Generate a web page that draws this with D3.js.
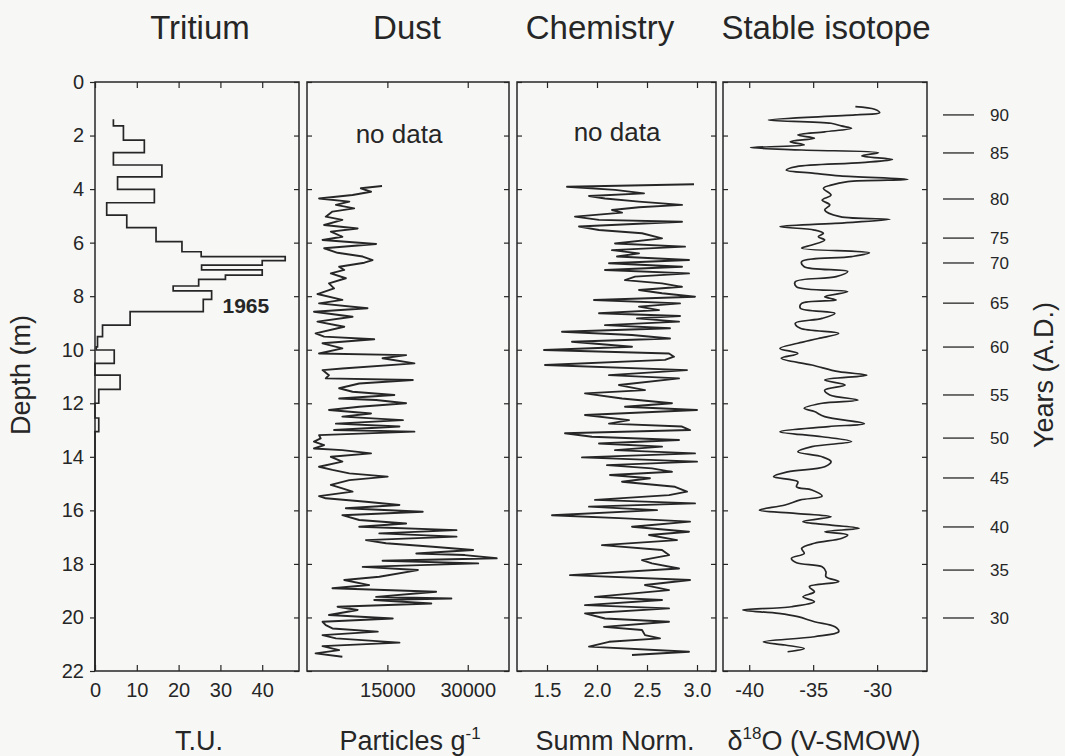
<!DOCTYPE html>
<html><head><meta charset="utf-8">
<script src="https://cdn.jsdelivr.net/npm/d3@7/dist/d3.min.js"></script>
<style>
html,body{margin:0;padding:0;background:#f7f8f6;}
svg{display:block;font-family:"Liberation Sans",Arial,sans-serif;}
</style></head>
<body><svg id="c" width="1065" height="756"></svg>
<script>
// ---------------- data ----------------
const panelTitles = ["Tritium", "Dust", "Chemistry", "Stable isotope"];
const depthTicks = [0,2,4,6,8,10,12,14,16,18,20,22];

const tritiumTicks = [0,10,20,30,40];
const dustTicks = [15000,30000];
const chemTicks = [1.5,2.0,2.5,3.0];
const isoTicks = [-40,-35,-30];

// tritium: step boundaries (depth, m) and T.U. value for each interval
const tritiumDepth = [1.39,1.64,2.17,2.64,3.10,3.54,4.01,4.51,4.97,5.44,5.96,6.34,6.52,6.67,6.84,7.02,7.21,7.37,7.62,7.80,8.12,8.58,9.08,9.51,9.89,10.01,10.51,10.95,11.48,12.0,12.55,13.06,22];
const tritiumTU = [4.4,6.8,11.8,4.4,16.0,5.4,14.2,2.8,7.6,14.6,20.8,25.4,45.5,40.0,25.5,40.0,31.2,24.8,18.7,27.9,25.9,8.4,1.8,0.6,0.3,4.6,0,6.0,0.9,0,0.9,0];

const dustDepth = [3.885,3.97,4.10,4.22,4.35,4.47,4.59,4.72,4.84,5.03,5.15,5.34,5.47,5.59,5.78,5.90,6.05,6.21,6.38,6.52,6.65,6.75,6.90,7.02,7.15,7.33,7.52,7.71,7.92,8.14,8.27,8.45,8.58,8.77,8.95,9.14,9.39,9.51,9.61,9.76,9.95,10.14,10.20,10.32,10.51,10.70,
 10.76,10.95,11.07,11.13,11.26,11.44,11.57,11.69,11.82,11.88,12.00,12.13,12.25,12.38,12.50,12.63,12.76,12.87,13.00,13.06,13.19,13.31,13.43,13.56,13.69,13.75,13.87,14.00,14.18,14.37,14.49,14.62,14.74,14.87,15.05,15.18,15.30,15.47,15.55,15.68,15.80,15.92,16.05,16.18,16.36,16.49,16.61,16.74,16.86,16.98,17.11,17.23,17.36,17.48,17.61,17.67,17.79,17.88,17.98,18.11,18.23,18.48,18.60,18.79,18.91,19.04,19.23,19.29,19.35,19.48,19.60,19.72,19.91,20.04,20.16,20.29,20.41,20.53,20.66,20.78,20.94,21.07,21.22,21.34,21.47];
const dustParticles = [14000,10050,11950,8500,2250,7900,5400,8800,4750,3500,6600,3200,9450,4450,6600,2900,12900,3200,5700,10400,12250,10700,6000,6950,4450,7250,4100,5050,1950,6600,2250,11300,1300,8500,1950,6950,1600,3200,12550,2900,6600,2250,18500,14100,20050,6600,
 2900,4100,3500,19750,9750,6000,8500,16300,6000,12900,18500,9750,4100,11950,6600,17900,5400,17250,5050,20050,2250,2550,1300,3200,1300,6600,11950,4450,6600,2250,4750,7900,15050,7900,4450,6600,8500,2250,3500,11000,17250,7250,21600,6600,9750,18500,9750,27900,13500,27900,11000,14750,23500,31000,20400,29450,35400,14100,31950,10400,20700,13500,6950,11600,4750,24100,12900,26950,12550,23200,5700,9450,4100,16000,2900,3500,4750,13200,2900,5400,17250,2900,6000,1600,6600];

const chemDepth = [3.82,3.91,4.03,4.16,4.26,4.35,4.47,4.59,4.68,4.78,4.88,5.03,5.15,5.22,5.40,5.53,5.65,5.84,6.03,6.15,6.28,6.40,6.52,6.65,6.77,6.90,7.02,7.15,7.27,7.40,7.52,7.65,7.77,7.89,8.02,8.14,8.27,8.39,8.52,8.64,8.74,8.83,8.95,9.08,9.20,9.33,9.45,9.58,9.70,9.89,10.01,10.14,10.26,10.38,10.57,
 10.76,10.95,11.07,11.32,11.51,11.63,11.82,12.00,12.13,12.25,12.44,12.63,12.76,12.87,13.00,13.12,13.25,13.37,13.50,13.62,13.75,13.87,14.02,14.18,14.31,14.43,14.56,14.68,14.80,14.93,15.12,15.30,15.43,15.61,15.74,15.86,15.99,16.18,16.30,16.42,16.61,16.80,16.92,17.11,17.30,17.48,17.67,17.86,17.98,18.17,18.42,18.60,18.79,18.98,19.23,19.35,19.54,19.66,19.85,20.04,20.16,20.35,20.47,20.66,20.78,20.91,21.09,21.28,21.40];
const chemSumm = [2.97,1.70,2.18,2.47,1.92,2.08,2.42,2.85,2.42,2.15,2.25,1.78,2.02,2.85,1.82,2.02,2.45,2.65,2.18,2.88,2.15,2.42,2.20,2.92,2.12,2.85,2.08,2.92,2.38,2.28,2.65,2.85,2.42,2.65,2.98,1.97,2.83,2.42,2.62,2.02,2.83,2.40,2.82,2.08,2.73,1.65,2.35,2.73,1.75,2.35,1.47,2.72,2.77,2.68,1.48,
 2.90,2.12,2.82,2.22,2.48,1.88,2.25,2.75,2.28,3.00,1.88,2.32,2.12,2.85,2.93,1.68,1.95,2.82,2.02,2.65,2.18,2.98,1.85,3.00,2.10,2.55,2.75,2.13,2.53,2.25,2.78,2.90,2.72,1.98,2.98,1.92,2.60,1.55,2.28,2.93,2.35,2.92,2.52,2.80,2.05,2.65,2.72,2.45,2.55,2.82,1.73,2.93,2.48,2.72,1.98,2.65,1.88,2.72,1.88,2.08,2.72,2.07,2.45,2.48,2.63,2.12,1.92,2.92,2.35];

const isoDepth = [0.92,1.02,1.15,1.23,1.42,1.54,1.64,1.73,1.86,1.98,2.10,2.23,2.35,2.45,2.54,2.64,2.76,2.89,3.01,3.16,3.29,3.41,3.51,3.64,3.72,3.85,3.97,4.22,4.41,4.59,4.78,5.03,5.13,5.28,5.40,5.53,5.65,5.78,5.90,6.09,6.21,6.38,6.52,6.71,6.90,7.08,7.27,7.46,7.65,7.83,8.02,8.14,8.27,8.45,8.64,8.83,9.01,9.20,9.39,9.58,9.76,9.95,10.14,10.32,10.57,10.82,
 10.95,11.13,11.32,11.51,11.69,11.88,12.00,12.19,12.31,12.50,12.76,12.87,13.06,13.25,13.43,13.62,13.81,14.00,14.18,14.37,14.56,14.74,14.93,15.12,15.24,15.47,15.61,15.80,15.99,16.11,16.24,16.42,16.55,16.67,16.80,16.92,17.05,17.23,17.42,17.61,17.79,17.96,18.11,18.29,18.48,18.66,18.85,19.04,19.23,19.41,19.60,19.72,19.85,19.97,20.16,20.35,20.53,20.72,20.91,21.03,21.16,21.28];
const isoD18O = [-31.7,-30.2,-29.8,-31.7,-38.5,-33.6,-32.8,-32.0,-34.1,-36.2,-34.9,-36.8,-35.7,-39.9,-35.9,-29.9,-31.2,-28.8,-31.2,-36.3,-37.1,-34.9,-32.9,-27.6,-32.3,-33.6,-34.2,-33.6,-34.3,-33.7,-34.1,-32.9,-29.0,-33.3,-37.6,-34.9,-34.2,-34.6,-34.1,-35.1,-35.9,-30.6,-32.0,-35.9,-35.7,-32.3,-33.2,-36.4,-36.3,-32.3,-34.1,-33.2,-35.9,-36.0,-33.3,-34.3,-36.4,-36.0,-33.0,-34.6,-36.2,-37.6,-36.2,-37.5,-35.1,-33.0,
 -30.8,-34.1,-32.5,-34.1,-33.7,-31.5,-34.3,-35.7,-34.9,-34.1,-31.0,-33.8,-37.6,-34.3,-32.0,-35.1,-36.2,-34.3,-33.6,-34.1,-37.0,-38.1,-36.2,-36.3,-35.1,-34.3,-36.0,-37.2,-39.2,-36.4,-33.6,-35.8,-33.6,-31.4,-34.1,-32.3,-32.8,-34.9,-35.9,-35.7,-36.7,-36.3,-34.3,-34.0,-34.0,-33.0,-35.3,-34.9,-35.8,-34.9,-36.7,-40.5,-37.7,-36.2,-34.9,-33.3,-33.0,-34.9,-38.9,-37.2,-35.7,-37.0];

const yearLabels = [90,85,80,75,70,65,60,55,50,45,40,35,30];
const yearDepth = [1.23,2.65,4.37,5.83,6.76,8.26,9.90,11.69,13.30,14.79,16.62,18.23,20.02];

// ---------------- drawing ----------------
const svg = d3.select("#c");
const ink = "#262626";
const y = d3.scaleLinear().domain([0,22]).range([82,671]);
const hyphen = f => (v => f(v).replace("\u2212","-"));

const panels = [
  {x0:95,  x1:299, domain:[0,48.8],       ticks:tritiumTicks, fmt:hyphen(d3.format("d")),   tx:200},
  {x0:307, x1:509, domain:[0,37700],      ticks:dustTicks,    fmt:hyphen(d3.format("d")),   tx:407},
  {x0:517, x1:716, domain:[1.2,3.19],     ticks:chemTicks,    fmt:hyphen(d3.format(".1f")), tx:600},
  {x0:723, x1:927, domain:[-42.05,-26.1], ticks:isoTicks,     fmt:hyphen(d3.format("d")),   tx:826}
];
panels.forEach(p => p.x = d3.scaleLinear().domain(p.domain).range([p.x0,p.x1]));

function styleAxis(g){
  g.select(".domain").remove();
  g.selectAll(".tick line").attr("stroke",ink).attr("stroke-width",1.2);
  g.selectAll(".tick text").attr("fill",ink).attr("font-family","Liberation Sans, Arial, sans-serif");
}

panels.forEach((p,i) => {
  const gb = svg.append("g").attr("transform",`translate(0,${y(22)})`)
    .call(d3.axisBottom(p.x).tickValues(p.ticks).tickFormat(p.fmt).tickSizeInner(-6).tickSizeOuter(0).tickPadding(12));
  styleAxis(gb);
  gb.selectAll(".tick text").attr("font-size",20);
  const gt = svg.append("g").attr("transform",`translate(0,${y(0)})`)
    .call(d3.axisTop(p.x).tickValues(p.ticks).tickFormat("").tickSizeInner(-6).tickSizeOuter(0));
  styleAxis(gt);
  const gl = svg.append("g").attr("transform",`translate(${p.x0},0)`);
  if(i===0){
    gl.call(d3.axisLeft(y).tickValues(depthTicks).tickFormat(d3.format("d")).tickSizeInner(5).tickSizeOuter(0).tickPadding(6));
    styleAxis(gl);
    gl.selectAll(".tick text").attr("font-size",20);
  } else {
    gl.call(d3.axisRight(y).tickValues(depthTicks).tickFormat("").tickSizeInner(5).tickSizeOuter(0));
    styleAxis(gl);
  }
  const gr = svg.append("g").attr("transform",`translate(${p.x1},0)`)
    .call(d3.axisLeft(y).tickValues(depthTicks).tickFormat("").tickSizeInner(5).tickSizeOuter(0));
  styleAxis(gr);
  svg.append("rect").attr("x",p.x0).attr("y",y(0)).attr("width",p.x1-p.x0).attr("height",y(22)-y(0))
    .attr("fill","none").attr("stroke",ink).attr("stroke-width",1.5);
  svg.append("text").attr("x",p.tx).attr("y",39).attr("text-anchor","middle")
    .attr("font-size",33).attr("fill",ink).text(panelTitles[i]);
});

// bottom unit labels
const ub = 750, ufs = 27;
svg.append("text").attr("x",199).attr("y",ub).attr("text-anchor","middle").attr("font-size",ufs).attr("fill",ink).text("T.U.");
const t2 = svg.append("text").attr("x",410).attr("y",ub).attr("text-anchor","middle").attr("font-size",ufs).attr("fill",ink);
t2.append("tspan").text("Particles g");
t2.append("tspan").attr("dy",-11).attr("font-size",17).text("-1");
svg.append("text").attr("x",615).attr("y",ub).attr("text-anchor","middle").attr("font-size",ufs).attr("fill",ink).text("Summ Norm.");
const t4 = svg.append("text").attr("x",824).attr("y",ub).attr("text-anchor","middle").attr("font-size",ufs).attr("fill",ink);
t4.append("tspan").text("\u03B4");
t4.append("tspan").attr("dy",-11).attr("font-size",17).text("18");
t4.append("tspan").attr("dy",11).text("O (V-SMOW)");

// Depth label
svg.append("text").attr("transform",`translate(30,375) rotate(-90)`).attr("text-anchor","middle")
  .attr("font-size",27).attr("fill",ink).text("Depth (m)");

// Tritium step profile
const tp = panels[0];
const tritPts = [];
tritiumTU.forEach((v,i) => { tritPts.push([v,tritiumDepth[i]]); tritPts.push([v,tritiumDepth[i+1]]); });
svg.append("path").datum(tritPts)
  .attr("d", d3.line().x(d=>tp.x(d[0])).y(d=>y(d[1])))
  .attr("fill","none").attr("stroke",ink).attr("stroke-width",1.7);
svg.append("text").attr("x",tp.x(30.5)).attr("y",y(8.62)).attr("font-size",21).attr("font-weight","bold")
  .attr("fill",ink).text("1965");

// Dust
const dp = panels[1];
svg.append("path").datum(dustDepth.map((d,i)=>[dustParticles[i],d]))
  .attr("d", d3.line().x(d=>dp.x(d[0])).y(d=>y(d[1])))
  .attr("fill","none").attr("stroke",ink).attr("stroke-width",1.9).attr("stroke-linejoin","round");
svg.append("text").attr("x",399).attr("y",y(2.27)).attr("text-anchor","middle")
  .attr("font-size",26).attr("fill",ink).text("no data");

// Chemistry
const cp = panels[2];
svg.append("path").datum(chemDepth.map((d,i)=>[chemSumm[i],d]))
  .attr("d", d3.line().x(d=>cp.x(d[0])).y(d=>y(d[1])))
  .attr("fill","none").attr("stroke",ink).attr("stroke-width",1.9).attr("stroke-linejoin","round");
svg.append("text").attr("x",617).attr("y",y(2.22)).attr("text-anchor","middle")
  .attr("font-size",26).attr("fill",ink).text("no data");

// Stable isotope
const ip = panels[3];
svg.append("path").datum(isoDepth.map((d,i)=>[isoD18O[i],d]))
  .attr("d", d3.line().x(d=>ip.x(d[0])).y(d=>y(d[1])).curve(d3.curveCatmullRom.alpha(0.5)))
  .attr("fill","none").attr("stroke",ink).attr("stroke-width",1.7);

// Year scale on right
const yg = svg.append("g");
yg.selectAll("line").data(yearDepth).join("line")
  .attr("x1",943).attr("x2",974).attr("y1",d=>y(d)).attr("y2",d=>y(d))
  .attr("stroke",ink).attr("stroke-width",1.3);
yg.selectAll("text").data(yearLabels).join("text")
  .attr("x",990).attr("y",(d,i)=>y(yearDepth[i])).attr("dy","0.35em")
  .attr("font-size",17).attr("fill",ink).text(d=>d);
svg.append("text").attr("transform",`translate(1044,375) rotate(-90)`).attr("text-anchor","middle")
  .attr("dy","0.35em").attr("font-size",27).attr("fill",ink).text("Years (A.D.)");
</script></body></html>
